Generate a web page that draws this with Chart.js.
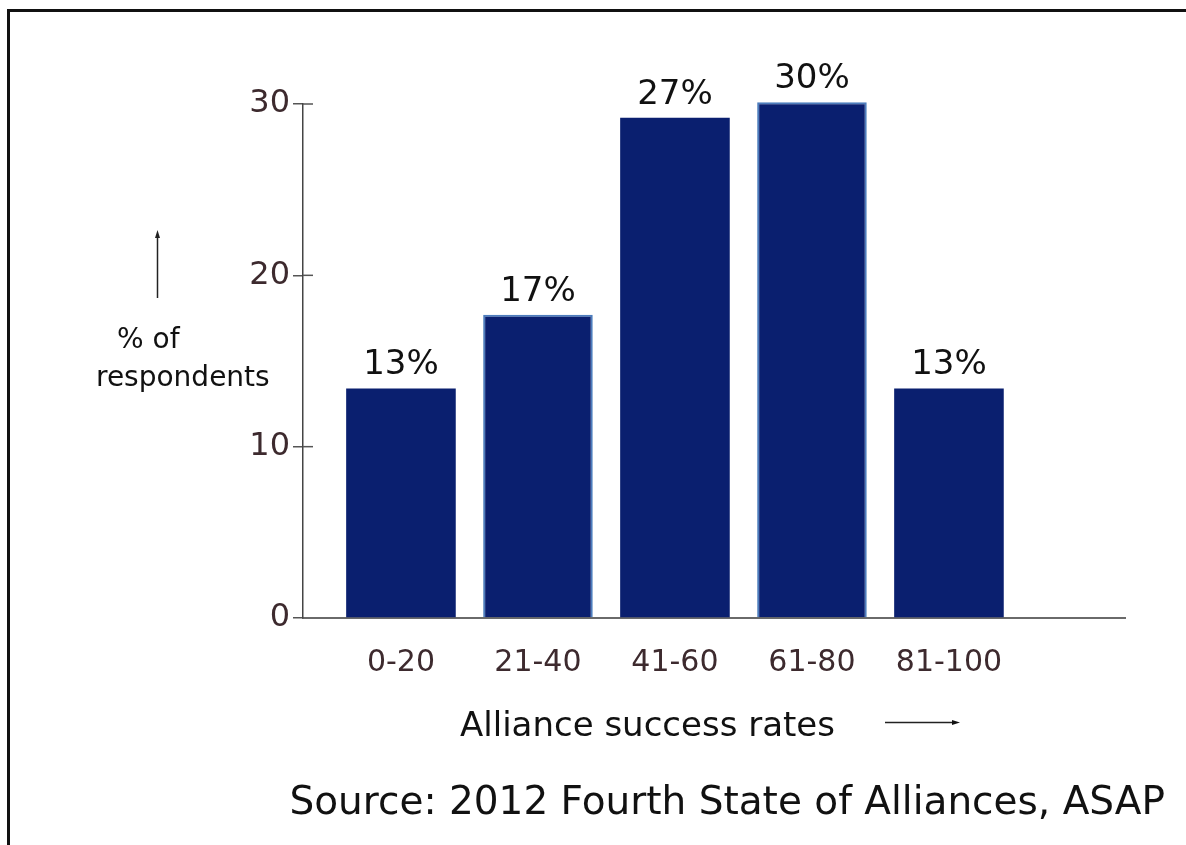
<!DOCTYPE html>
<html>
<head>
<meta charset="utf-8">
<script src="https://cdn.jsdelivr.net/npm/chart.js@4/dist/chart.umd.min.js"></script>
<style>
  html, body { margin: 0; padding: 0; background: #fff; }
  #wrap { position: relative; width: 1186px; height: 845px; overflow: hidden; background: #fff; }
  #frame { position: absolute; left: 7px; top: 9px; width: 1300px; height: 900px;
           border-left: 3px solid #111; border-top: 3px solid #111; pointer-events: none; }
  canvas { position: absolute; left: 0; top: 0; }
</style>
</head>
<body>
<div id="wrap">
  <canvas id="c" width="1186" height="845"></canvas>
  <div id="frame"></div>
</div>
<script>
const categories = ['0-20', '21-40', '41-60', '61-80', '81-100'];
const values = [13.4, 17.7, 29.2, 30.1, 13.4];
const valueLabels = ['13%', '17%', '27%', '30%', '13%'];
const yTickValues = [0, 10, 20, 30];
const yTitleLines = ['% of', 'respondents'];
const xTitle = 'Alliance success rates';
const sourceText = 'Source: 2012 Fourth State of Alliances, ASAP';

const FONT = '"DejaVu Sans", sans-serif';
const barFill = '#0a1f6f';
const barEdge = ['#0a1f6f', '#4d7dbd', '#0a1f6f', '#4d7dbd', '#0a1f6f'];
const barEdgeW = [0, 2, 0, 2, 0];

const annotations = {
  id: 'annotations',
  afterDraw(chart) {
    const ctx = chart.ctx;
    const y = chart.scales.y;
    const area = chart.chartArea;
    ctx.save();
    // inner half of y tick marks
    ctx.strokeStyle = '#555';
    ctx.lineWidth = 1.5;
    yTickValues.forEach(v => {
      if (v === 0) return;
      const py = y.getPixelForValue(v);
      ctx.beginPath();
      ctx.moveTo(area.left, py);
      ctx.lineTo(area.left + 10, py);
      ctx.stroke();
    });
    // value labels above bars
    const meta = chart.getDatasetMeta(0);
    ctx.fillStyle = '#111';
    ctx.font = '34px ' + FONT;
    ctx.textAlign = 'center';
    ctx.textBaseline = 'alphabetic';
    meta.data.forEach((bar, i) => {
      ctx.fillText(valueLabels[i], bar.x, bar.y - 14);
    });
    // y title with up arrow
    ctx.font = '28px ' + FONT;
    ctx.textAlign = 'left';
    ctx.fillText(yTitleLines[0], 117, 348);
    ctx.fillText(yTitleLines[1], 96, 386);
    ctx.strokeStyle = '#222';
    ctx.lineWidth = 1.5;
    ctx.beginPath();
    ctx.moveTo(157.5, 298);
    ctx.lineTo(157.5, 236);
    ctx.stroke();
    ctx.fillStyle = '#222';
    ctx.beginPath();
    ctx.moveTo(157.5, 230);
    ctx.lineTo(155, 238);
    ctx.lineTo(160, 238);
    ctx.closePath();
    ctx.fill();
    // x title with right arrow
    ctx.fillStyle = '#111';
    ctx.font = '34px ' + FONT;
    ctx.fillText(xTitle, 460, 736);
    ctx.beginPath();
    ctx.moveTo(885, 722.5);
    ctx.lineTo(953, 722.5);
    ctx.stroke();
    ctx.beginPath();
    ctx.moveTo(960, 722.5);
    ctx.lineTo(952, 720);
    ctx.lineTo(952, 725);
    ctx.closePath();
    ctx.fill();
    // source
    ctx.font = '39px ' + FONT;
    ctx.textAlign = 'right';
    ctx.fillText(sourceText, 1165, 814);
    ctx.restore();
  }
};

new Chart(document.getElementById('c'), {
  type: 'bar',
  data: {
    datasets: [{
      data: values.map((v, i) => ({ x: i + 1, y: v })),
      backgroundColor: barFill,
      borderColor: barEdge,
      borderWidth: barEdgeW,
      barPercentage: 1,
      categoryPercentage: 0.8,
      clip: false
    }]
  },
  options: {
    responsive: false,
    animation: false,
    layout: { padding: { top: 104, right: 61, bottom: 0, left: 0 } },
    plugins: { legend: { display: false }, tooltip: { enabled: false }, title: { display: false } },
    scales: {
      x: {
        type: 'linear',
        offset: false,
        min: 0.285,
        max: 6.285,
        afterFit(s) { s.height = 227; },
        afterBuildTicks(s) { s.ticks = categories.map((c, i) => ({ value: i + 1 })); },
        grid: { display: false, offset: false },
        border: { display: true, color: '#6a6a6a', width: 2 },
        ticks: {
          autoSkip: false,
          maxRotation: 0,
          padding: 19,
          color: '#3d2a2e',
          font: { family: FONT, size: 30 },
          callback: v => categories[Math.round(v) - 1] ?? ''
        }
      },
      y: {
        min: 0,
        max: 30,
        afterFit(s) { s.width = 303; },
        afterBuildTicks(s) { s.ticks = yTickValues.map(v => ({ value: v })); },
        grid: { drawOnChartArea: false, drawTicks: true, tickLength: 10, color: '#555', lineWidth: 1.5 },
        border: { display: true, color: '#444', width: 1.5 },
        ticks: {
          padding: 3,
          color: '#3d2a2e',
          font: { family: FONT, size: 32 }
        }
      }
    }
  },
  plugins: [annotations]
});
</script>
</body>
</html>
